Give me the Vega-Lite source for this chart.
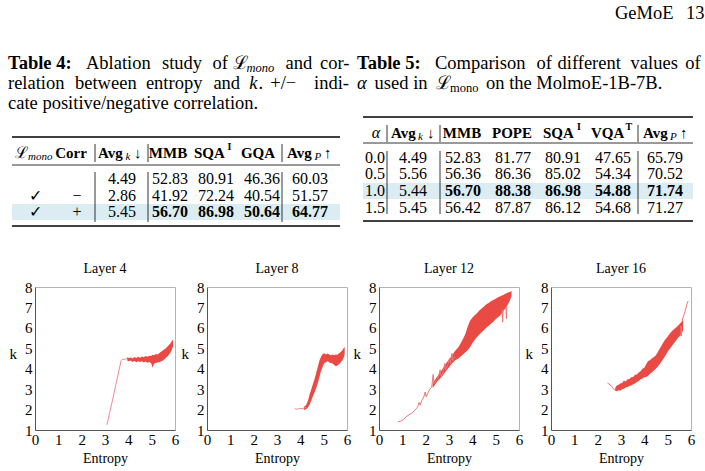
{
  "$schema": "https://vega.github.io/schema/vega-lite/v6.json",
  "background": "white",
  "padding": {"left": 8, "top": 0, "right": 0, "bottom": 0},
  "config": {
    "font": "Liberation Serif",
    "view": {"stroke": null},
    "title": {"font": "Liberation Serif", "fontSize": 14, "fontWeight": "normal", "color": "black", "offset": 0},
    "axis": {
      "labelFont": "Liberation Serif", "titleFont": "Liberation Serif",
      "labelFontSize": 15, "titleFontSize": 15, "titleFontWeight": "normal",
      "labelColor": "black", "titleColor": "black",
      "ticks": false, "grid": false, "domainColor": "#555555",
      "labelFlush": false, "labelOverlap": false
    },
    "axisX": {"labelPadding": 2, "titlePadding": 4, "titleFontSize": 14},
    "axisY": {"labelPadding": 3, "titleAngle": 0, "titleAlign": "right", "titleBaseline": "middle", "titlePadding": 8, "titleY": 66}
  },
  "datasets": {
    "colsX": [
      {"c": "hG", "x": 615}, {"c": "h13", "x": 686},
      {"c": "t4w1", "x": 8}, {"c": "t4w2", "x": 86}, {"c": "t4w3", "x": 162}, {"c": "t4w4", "x": 212.5},
      {"c": "t4w5", "x": 233}, {"c": "t4w6", "x": 246.5}, {"c": "t4w7", "x": 285.5}, {"c": "t4w8", "x": 320},
      {"c": "t4v1", "x": 8}, {"c": "t4v2", "x": 75}, {"c": "t4v3", "x": 145.9}, {"c": "t4v4", "x": 213.4},
      {"c": "t4v5", "x": 249.2}, {"c": "t4v6", "x": 258.6}, {"c": "t4v7", "x": 270.2}, {"c": "t4v8", "x": 314},
      {"c": "t5w1", "x": 357}, {"c": "t5w2", "x": 435}, {"c": "t5w3", "x": 536.5}, {"c": "t5w4", "x": 557.5},
      {"c": "t5w5", "x": 630.6}, {"c": "t5w6", "x": 685.3},
      {"c": "t5v2", "x": 374.6}, {"c": "t5v3", "x": 435.5}, {"c": "t5v4", "x": 450}, {"c": "t5v5", "x": 486}],
    "rowsY": [
      {"r": "hdr", "y": 13},
      {"r": "t4c1", "y": 63}, {"r": "t4c2", "y": 83}, {"r": "t4c3", "y": 103},
      {"r": "t5c1", "y": 63}, {"r": "t5c2", "y": 83},
      {"r": "t4top", "y": 137}, {"r": "t4h", "y": 153}, {"r": "t4mid", "y": 165},
      {"r": "t4r1", "y": 179}, {"r": "t4r2", "y": 196}, {"r": "t4r3", "y": 212}, {"r": "t4bot", "y": 226},
      {"r": "t4hl0", "y": 204}, {"r": "t4hl1", "y": 220},
      {"r": "t4vh0", "y": 144}, {"r": "t4vh1", "y": 162}, {"r": "t4vb0", "y": 172}, {"r": "t4vb1", "y": 222},
      {"r": "t5top", "y": 117}, {"r": "t5h", "y": 133}, {"r": "t5mid", "y": 143},
      {"r": "t5r1", "y": 158}, {"r": "t5r2", "y": 174}, {"r": "t5r3", "y": 191}, {"r": "t5r4", "y": 208}, {"r": "t5bot", "y": 221},
      {"r": "t5hl0", "y": 183}, {"r": "t5hl1", "y": 199},
      {"r": "t5vh0", "y": 125}, {"r": "t5vh1", "y": 142}, {"r": "t5vb0", "y": 151}, {"r": "t5vb1", "y": 214}
    ],
    "tableCols": [
      {"c": "t4x0", "x": 12}, {"c": "t4x9", "x": 340},
      {"c": "t4hL", "x": 15}, {"c": "t4hm", "x": 28}, {"c": "t4corr", "x": 71},
      {"c": "t4avgk", "x": 98}, {"c": "t4k", "x": 125.5}, {"c": "t4dn", "x": 134},
      {"c": "t4mmb", "x": 168}, {"c": "t4sqa", "x": 194}, {"c": "t4sqI", "x": 227.5}, {"c": "t4gqa", "x": 258},
      {"c": "t4avgp", "x": 287}, {"c": "t4p", "x": 314.5}, {"c": "t4up", "x": 324},
      {"c": "t4b1", "x": 95}, {"c": "t4b2", "x": 148}, {"c": "t4b3", "x": 282},
      {"c": "t4cL", "x": 35}, {"c": "t4cC", "x": 77}, {"c": "t4cK", "x": 122}, {"c": "t4cM", "x": 170},
      {"c": "t4cS", "x": 216}, {"c": "t4cG", "x": 262}, {"c": "t4cP", "x": 310},
      {"c": "t5x0", "x": 363}, {"c": "t5x9", "x": 693},
      {"c": "t5al", "x": 376}, {"c": "t5avgk", "x": 391}, {"c": "t5k", "x": 418}, {"c": "t5dn", "x": 427},
      {"c": "t5mmb", "x": 462}, {"c": "t5pope", "x": 512}, {"c": "t5sqa", "x": 543}, {"c": "t5sqI", "x": 577},
      {"c": "t5vqa", "x": 591}, {"c": "t5vqT", "x": 625.5}, {"c": "t5avgp", "x": 643}, {"c": "t5p", "x": 670}, {"c": "t5up", "x": 680},
      {"c": "t5b1", "x": 387}, {"c": "t5b2", "x": 440}, {"c": "t5b3", "x": 638},
      {"c": "t5cA", "x": 375}, {"c": "t5cK", "x": 413}, {"c": "t5cM", "x": 463}, {"c": "t5cO", "x": 513},
      {"c": "t5cS", "x": 563}, {"c": "t5cV", "x": 613}, {"c": "t5cP", "x": 665}
    ],
    "shapes": [
      {"k": "hl", "c0": "t4x0", "c1": "t4x9", "r0": "t4hl0", "r1": "t4hl1"},
      {"k": "hl", "c0": "t5x0", "c1": "t5x9", "r0": "t5hl0", "r1": "t5hl1"},
      {"k": "thick", "c0": "t4x0", "c1": "t4x9", "r0": "t4top", "r1": "t4top"},
      {"k": "thick", "c0": "t4x0", "c1": "t4x9", "r0": "t4bot", "r1": "t4bot"},
      {"k": "thin", "c0": "t4x0", "c1": "t4x9", "r0": "t4mid", "r1": "t4mid"},
      {"k": "thick", "c0": "t5x0", "c1": "t5x9", "r0": "t5top", "r1": "t5top"},
      {"k": "thick", "c0": "t5x0", "c1": "t5x9", "r0": "t5bot", "r1": "t5bot"},
      {"k": "thin", "c0": "t5x0", "c1": "t5x9", "r0": "t5mid", "r1": "t5mid"},
      {"k": "thin", "c0": "t4b1", "c1": "t4b1", "r0": "t4vh0", "r1": "t4vh1"},
      {"k": "thin", "c0": "t4b1", "c1": "t4b1", "r0": "t4vb0", "r1": "t4vb1"},
      {"k": "thin", "c0": "t4b2", "c1": "t4b2", "r0": "t4vh0", "r1": "t4vh1"},
      {"k": "thin", "c0": "t4b2", "c1": "t4b2", "r0": "t4vb0", "r1": "t4vb1"},
      {"k": "thin", "c0": "t4b3", "c1": "t4b3", "r0": "t4vh0", "r1": "t4vh1"},
      {"k": "thin", "c0": "t4b3", "c1": "t4b3", "r0": "t4vb0", "r1": "t4vb1"},
      {"k": "thin", "c0": "t5b1", "c1": "t5b1", "r0": "t5vh0", "r1": "t5vh1"},
      {"k": "thin", "c0": "t5b1", "c1": "t5b1", "r0": "t5vb0", "r1": "t5vb1"},
      {"k": "thin", "c0": "t5b2", "c1": "t5b2", "r0": "t5vh0", "r1": "t5vh1"},
      {"k": "thin", "c0": "t5b2", "c1": "t5b2", "r0": "t5vb0", "r1": "t5vb1"},
      {"k": "thin", "c0": "t5b3", "c1": "t5b3", "r0": "t5vh0", "r1": "t5vh1"},
      {"k": "thin", "c0": "t5b3", "c1": "t5b3", "r0": "t5vb0", "r1": "t5vb1"}
    ],
    "cells": [
      {"r": "hdr", "c": "hG", "t": "GeMoE", "s": "cap"},
      {"r": "hdr", "c": "h13", "t": "13", "s": "cap"},
      {"r": "t4c1", "c": "t4w1", "t": "Table 4:", "s": "capb"},
      {"r": "t4c1", "c": "t4w2", "t": "Ablation", "s": "cap"},
      {"r": "t4c1", "c": "t4w3", "t": "study", "s": "cap"},
      {"r": "t4c1", "c": "t4w4", "t": "of", "s": "cap"},
      {"r": "t4c1", "c": "t4w5", "t": "ℒ", "s": "cap"},
      {"r": "t4c1", "c": "t4w6", "t": "mono", "s": "capsi"},
      {"r": "t4c1", "c": "t4w7", "t": "and", "s": "cap"},
      {"r": "t4c1", "c": "t4w8", "t": "cor-", "s": "cap"},
      {"r": "t4c2", "c": "t4v1", "t": "relation", "s": "cap"},
      {"r": "t4c2", "c": "t4v2", "t": "between", "s": "cap"},
      {"r": "t4c2", "c": "t4v3", "t": "entropy", "s": "cap"},
      {"r": "t4c2", "c": "t4v4", "t": "and", "s": "cap"},
      {"r": "t4c2", "c": "t4v5", "t": "k", "s": "capi"},
      {"r": "t4c2", "c": "t4v6", "t": ".", "s": "cap"},
      {"r": "t4c2", "c": "t4v7", "t": "+/−", "s": "cap"},
      {"r": "t4c2", "c": "t4v8", "t": "indi-", "s": "cap"},
      {"r": "t4c3", "c": "t4v1", "t": "cate positive/negative correlation.", "s": "cap"},
      {"r": "t5c1", "c": "t5w1", "t": "Table 5:", "s": "capb"},
      {"r": "t5c1", "c": "t5w2", "t": "Comparison", "s": "cap"},
      {"r": "t5c1", "c": "t5w3", "t": "of", "s": "cap"},
      {"r": "t5c1", "c": "t5w4", "t": "different", "s": "cap"},
      {"r": "t5c1", "c": "t5w5", "t": "values", "s": "cap"},
      {"r": "t5c1", "c": "t5w6", "t": "of", "s": "cap"},
      {"r": "t5c2", "c": "t5w1", "t": "α", "s": "capi"},
      {"r": "t5c2", "c": "t5v2", "t": "used in", "s": "cap"},
      {"r": "t5c2", "c": "t5v3", "t": "ℒ", "s": "cap"},
      {"r": "t5c2", "c": "t5v4", "t": "mono", "s": "capsn"},
      {"r": "t5c2", "c": "t5v5", "t": "on the MolmoE-1B-7B.", "s": "cap"},

      {"r": "t4h", "c": "t4hL", "t": "ℒ", "s": "hn"},
      {"r": "t4h", "c": "t4hm", "t": "mono", "s": "hsi"},
      {"r": "t4h", "c": "t4corr", "t": "Corr", "s": "hb"},
      {"r": "t4h", "c": "t4avgk", "t": "Avg", "s": "hbl"},
      {"r": "t4h", "c": "t4k", "t": "k", "s": "hsi"},
      {"r": "t4h", "c": "t4dn", "t": "↓", "s": "ha"},
      {"r": "t4h", "c": "t4mmb", "t": "MMB", "s": "hb"},
      {"r": "t4h", "c": "t4sqa", "t": "SQA", "s": "hbl"},
      {"r": "t4h", "c": "t4sqI", "t": "I", "s": "hsb"},
      {"r": "t4h", "c": "t4gqa", "t": "GQA", "s": "hb"},
      {"r": "t4h", "c": "t4avgp", "t": "Avg", "s": "hbl"},
      {"r": "t4h", "c": "t4p", "t": "P", "s": "hsi"},
      {"r": "t4h", "c": "t4up", "t": "↑", "s": "ha"},
      {"r": "t4r1", "c": "t4cK", "t": "4.49", "s": "n"},
      {"r": "t4r1", "c": "t4cM", "t": "52.83", "s": "n"},
      {"r": "t4r1", "c": "t4cS", "t": "80.91", "s": "n"},
      {"r": "t4r1", "c": "t4cG", "t": "46.36", "s": "n"},
      {"r": "t4r1", "c": "t4cP", "t": "60.03", "s": "n"},
      {"r": "t4r2", "c": "t4cL", "t": "✓", "s": "n"},
      {"r": "t4r2", "c": "t4cC", "t": "−", "s": "n"},
      {"r": "t4r2", "c": "t4cK", "t": "2.86", "s": "n"},
      {"r": "t4r2", "c": "t4cM", "t": "41.92", "s": "n"},
      {"r": "t4r2", "c": "t4cS", "t": "72.24", "s": "n"},
      {"r": "t4r2", "c": "t4cG", "t": "40.54", "s": "n"},
      {"r": "t4r2", "c": "t4cP", "t": "51.57", "s": "n"},
      {"r": "t4r3", "c": "t4cL", "t": "✓", "s": "n"},
      {"r": "t4r3", "c": "t4cC", "t": "+", "s": "n"},
      {"r": "t4r3", "c": "t4cK", "t": "5.45", "s": "n"},
      {"r": "t4r3", "c": "t4cM", "t": "56.70", "s": "b"},
      {"r": "t4r3", "c": "t4cS", "t": "86.98", "s": "b"},
      {"r": "t4r3", "c": "t4cG", "t": "50.64", "s": "b"},
      {"r": "t4r3", "c": "t4cP", "t": "64.77", "s": "b"},

      {"r": "t5h", "c": "t5al", "t": "α", "s": "hi"},
      {"r": "t5h", "c": "t5avgk", "t": "Avg", "s": "hbl"},
      {"r": "t5h", "c": "t5k", "t": "k", "s": "hsi"},
      {"r": "t5h", "c": "t5dn", "t": "↓", "s": "ha"},
      {"r": "t5h", "c": "t5mmb", "t": "MMB", "s": "hb"},
      {"r": "t5h", "c": "t5pope", "t": "POPE", "s": "hb"},
      {"r": "t5h", "c": "t5sqa", "t": "SQA", "s": "hbl"},
      {"r": "t5h", "c": "t5sqI", "t": "I", "s": "hsb"},
      {"r": "t5h", "c": "t5vqa", "t": "VQA", "s": "hbl"},
      {"r": "t5h", "c": "t5vqT", "t": "T", "s": "hsb"},
      {"r": "t5h", "c": "t5avgp", "t": "Avg", "s": "hbl"},
      {"r": "t5h", "c": "t5p", "t": "P", "s": "hsi"},
      {"r": "t5h", "c": "t5up", "t": "↑", "s": "ha"},
      {"r": "t5r1", "c": "t5cA", "t": "0.0", "s": "n"},
      {"r": "t5r1", "c": "t5cK", "t": "4.49", "s": "n"},
      {"r": "t5r1", "c": "t5cM", "t": "52.83", "s": "n"},
      {"r": "t5r1", "c": "t5cO", "t": "81.77", "s": "n"},
      {"r": "t5r1", "c": "t5cS", "t": "80.91", "s": "n"},
      {"r": "t5r1", "c": "t5cV", "t": "47.65", "s": "n"},
      {"r": "t5r1", "c": "t5cP", "t": "65.79", "s": "n"},
      {"r": "t5r2", "c": "t5cA", "t": "0.5", "s": "n"},
      {"r": "t5r2", "c": "t5cK", "t": "5.56", "s": "n"},
      {"r": "t5r2", "c": "t5cM", "t": "56.36", "s": "n"},
      {"r": "t5r2", "c": "t5cO", "t": "86.36", "s": "n"},
      {"r": "t5r2", "c": "t5cS", "t": "85.02", "s": "n"},
      {"r": "t5r2", "c": "t5cV", "t": "54.34", "s": "n"},
      {"r": "t5r2", "c": "t5cP", "t": "70.52", "s": "n"},
      {"r": "t5r3", "c": "t5cA", "t": "1.0", "s": "n"},
      {"r": "t5r3", "c": "t5cK", "t": "5.44", "s": "n"},
      {"r": "t5r3", "c": "t5cM", "t": "56.70", "s": "b"},
      {"r": "t5r3", "c": "t5cO", "t": "88.38", "s": "b"},
      {"r": "t5r3", "c": "t5cS", "t": "86.98", "s": "b"},
      {"r": "t5r3", "c": "t5cV", "t": "54.88", "s": "b"},
      {"r": "t5r3", "c": "t5cP", "t": "71.74", "s": "b"},
      {"r": "t5r4", "c": "t5cA", "t": "1.5", "s": "n"},
      {"r": "t5r4", "c": "t5cK", "t": "5.45", "s": "n"},
      {"r": "t5r4", "c": "t5cM", "t": "56.42", "s": "n"},
      {"r": "t5r4", "c": "t5cO", "t": "87.87", "s": "n"},
      {"r": "t5r4", "c": "t5cS", "t": "86.12", "s": "n"},
      {"r": "t5r4", "c": "t5cV", "t": "54.68", "s": "n"},
      {"r": "t5r4", "c": "t5cP", "t": "71.27", "s": "n"}
    ],
    "band": [
      {"layer": 4, "e": 3.95, "lo": 4.40, "hi": 4.56}, {"layer": 4, "e": 4.02, "lo": 4.36, "hi": 4.52},
      {"layer": 4, "e": 4.10, "lo": 4.40, "hi": 4.55}, {"layer": 4, "e": 4.18, "lo": 4.33, "hi": 4.50},
      {"layer": 4, "e": 4.26, "lo": 4.38, "hi": 4.57}, {"layer": 4, "e": 4.34, "lo": 4.32, "hi": 4.52},
      {"layer": 4, "e": 4.42, "lo": 4.37, "hi": 4.58}, {"layer": 4, "e": 4.50, "lo": 4.33, "hi": 4.54},
      {"layer": 4, "e": 4.58, "lo": 4.36, "hi": 4.60}, {"layer": 4, "e": 4.66, "lo": 4.30, "hi": 4.56},
      {"layer": 4, "e": 4.74, "lo": 4.35, "hi": 4.62}, {"layer": 4, "e": 4.82, "lo": 4.29, "hi": 4.58},
      {"layer": 4, "e": 4.90, "lo": 4.33, "hi": 4.64}, {"layer": 4, "e": 4.98, "lo": 4.27, "hi": 4.62},
      {"layer": 4, "e": 5.04, "lo": 4.05, "hi": 4.68}, {"layer": 4, "e": 5.10, "lo": 4.24, "hi": 4.66},
      {"layer": 4, "e": 5.18, "lo": 4.28, "hi": 4.72}, {"layer": 4, "e": 5.26, "lo": 4.30, "hi": 4.70},
      {"layer": 4, "e": 5.34, "lo": 4.33, "hi": 4.78}, {"layer": 4, "e": 5.42, "lo": 4.36, "hi": 4.84},
      {"layer": 4, "e": 5.50, "lo": 4.42, "hi": 4.92}, {"layer": 4, "e": 5.58, "lo": 4.50, "hi": 4.98},
      {"layer": 4, "e": 5.66, "lo": 4.58, "hi": 5.06}, {"layer": 4, "e": 5.74, "lo": 4.68, "hi": 5.16},
      {"layer": 4, "e": 5.80, "lo": 4.78, "hi": 5.24}, {"layer": 4, "e": 5.86, "lo": 4.92, "hi": 5.34},
      {"layer": 4, "e": 5.92, "lo": 5.10, "hi": 5.44},

      {"layer": 8, "e": 4.15, "lo": 1.98, "hi": 2.12}, {"layer": 8, "e": 4.25, "lo": 2.02, "hi": 2.22},
      {"layer": 8, "e": 4.33, "lo": 2.10, "hi": 2.45}, {"layer": 8, "e": 4.40, "lo": 2.25, "hi": 2.75},
      {"layer": 8, "e": 4.47, "lo": 2.45, "hi": 3.00}, {"layer": 8, "e": 4.54, "lo": 2.65, "hi": 3.25},
      {"layer": 8, "e": 4.61, "lo": 2.85, "hi": 3.50}, {"layer": 8, "e": 4.68, "lo": 3.05, "hi": 3.80},
      {"layer": 8, "e": 4.75, "lo": 3.30, "hi": 4.10}, {"layer": 8, "e": 4.82, "lo": 3.60, "hi": 4.40},
      {"layer": 8, "e": 4.89, "lo": 3.90, "hi": 4.60}, {"layer": 8, "e": 4.96, "lo": 4.10, "hi": 4.72},
      {"layer": 8, "e": 5.03, "lo": 4.28, "hi": 4.76}, {"layer": 8, "e": 5.10, "lo": 4.32, "hi": 4.70},
      {"layer": 8, "e": 5.17, "lo": 4.36, "hi": 4.74}, {"layer": 8, "e": 5.24, "lo": 4.30, "hi": 4.70},
      {"layer": 8, "e": 5.31, "lo": 4.28, "hi": 4.66}, {"layer": 8, "e": 5.38, "lo": 4.25, "hi": 4.70},
      {"layer": 8, "e": 5.45, "lo": 4.18, "hi": 4.66}, {"layer": 8, "e": 5.52, "lo": 4.12, "hi": 4.70},
      {"layer": 8, "e": 5.59, "lo": 4.16, "hi": 4.68}, {"layer": 8, "e": 5.66, "lo": 4.22, "hi": 4.76},
      {"layer": 8, "e": 5.73, "lo": 4.30, "hi": 4.82}, {"layer": 8, "e": 5.80, "lo": 4.40, "hi": 4.90},
      {"layer": 8, "e": 5.86, "lo": 4.55, "hi": 5.02}, {"layer": 8, "e": 5.90, "lo": 4.70, "hi": 5.06},

      {"layer": 12, "e": 2.30, "lo": 3.05, "hi": 3.30}, {"layer": 12, "e": 2.50, "lo": 3.38, "hi": 3.62},
      {"layer": 12, "e": 2.70, "lo": 3.62, "hi": 3.95}, {"layer": 12, "e": 2.90, "lo": 3.92, "hi": 4.30},
      {"layer": 12, "e": 3.10, "lo": 4.22, "hi": 4.60}, {"layer": 12, "e": 3.25, "lo": 4.40, "hi": 4.85},
      {"layer": 12, "e": 3.40, "lo": 4.50, "hi": 5.05}, {"layer": 12, "e": 3.50, "lo": 4.60, "hi": 5.25},
      {"layer": 12, "e": 3.60, "lo": 4.70, "hi": 5.45}, {"layer": 12, "e": 3.70, "lo": 4.80, "hi": 5.70},
      {"layer": 12, "e": 3.80, "lo": 4.90, "hi": 6.05}, {"layer": 12, "e": 3.90, "lo": 5.05, "hi": 6.35},
      {"layer": 12, "e": 4.00, "lo": 5.25, "hi": 6.50}, {"layer": 12, "e": 4.10, "lo": 5.40, "hi": 6.62},
      {"layer": 12, "e": 4.20, "lo": 5.55, "hi": 6.72}, {"layer": 12, "e": 4.30, "lo": 5.68, "hi": 6.85},
      {"layer": 12, "e": 4.40, "lo": 5.78, "hi": 6.95}, {"layer": 12, "e": 4.50, "lo": 5.90, "hi": 7.05},
      {"layer": 12, "e": 4.60, "lo": 6.00, "hi": 7.15}, {"layer": 12, "e": 4.70, "lo": 6.10, "hi": 7.22},
      {"layer": 12, "e": 4.80, "lo": 6.20, "hi": 7.30}, {"layer": 12, "e": 4.90, "lo": 6.30, "hi": 7.36},
      {"layer": 12, "e": 5.00, "lo": 6.42, "hi": 7.42}, {"layer": 12, "e": 5.10, "lo": 6.52, "hi": 7.50},
      {"layer": 12, "e": 5.20, "lo": 6.62, "hi": 7.55}, {"layer": 12, "e": 5.30, "lo": 6.78, "hi": 7.60},
      {"layer": 12, "e": 5.40, "lo": 6.92, "hi": 7.66}, {"layer": 12, "e": 5.50, "lo": 7.10, "hi": 7.72},
      {"layer": 12, "e": 5.60, "lo": 7.32, "hi": 7.76}, {"layer": 12, "e": 5.68, "lo": 7.55, "hi": 7.80},

      {"layer": 16, "e": 2.75, "lo": 2.92, "hi": 3.05}, {"layer": 16, "e": 2.82, "lo": 2.90, "hi": 3.18},
      {"layer": 16, "e": 2.90, "lo": 2.95, "hi": 3.22}, {"layer": 16, "e": 2.97, "lo": 2.92, "hi": 3.28},
      {"layer": 16, "e": 3.05, "lo": 3.00, "hi": 3.30}, {"layer": 16, "e": 3.12, "lo": 3.02, "hi": 3.42},
      {"layer": 16, "e": 3.20, "lo": 3.08, "hi": 3.38}, {"layer": 16, "e": 3.28, "lo": 3.10, "hi": 3.48},
      {"layer": 16, "e": 3.36, "lo": 3.15, "hi": 3.50}, {"layer": 16, "e": 3.44, "lo": 3.18, "hi": 3.58},
      {"layer": 16, "e": 3.52, "lo": 3.24, "hi": 3.60}, {"layer": 16, "e": 3.60, "lo": 3.28, "hi": 3.70},
      {"layer": 16, "e": 3.68, "lo": 3.35, "hi": 3.72}, {"layer": 16, "e": 3.76, "lo": 3.40, "hi": 3.82},
      {"layer": 16, "e": 3.84, "lo": 3.48, "hi": 3.88}, {"layer": 16, "e": 3.92, "lo": 3.52, "hi": 4.00},
      {"layer": 16, "e": 4.00, "lo": 3.58, "hi": 4.05}, {"layer": 16, "e": 4.08, "lo": 3.60, "hi": 4.22},
      {"layer": 16, "e": 4.16, "lo": 3.66, "hi": 4.38}, {"layer": 16, "e": 4.24, "lo": 3.74, "hi": 4.42},
      {"layer": 16, "e": 4.32, "lo": 3.82, "hi": 4.50}, {"layer": 16, "e": 4.40, "lo": 3.90, "hi": 4.56},
      {"layer": 16, "e": 4.48, "lo": 3.98, "hi": 4.64}, {"layer": 16, "e": 4.56, "lo": 4.08, "hi": 4.78},
      {"layer": 16, "e": 4.64, "lo": 4.20, "hi": 4.94}, {"layer": 16, "e": 4.72, "lo": 4.32, "hi": 5.10},
      {"layer": 16, "e": 4.80, "lo": 4.46, "hi": 5.26}, {"layer": 16, "e": 4.88, "lo": 4.60, "hi": 5.40},
      {"layer": 16, "e": 4.96, "lo": 4.74, "hi": 5.52}, {"layer": 16, "e": 5.04, "lo": 4.90, "hi": 5.64},
      {"layer": 16, "e": 5.12, "lo": 5.02, "hi": 5.76}, {"layer": 16, "e": 5.20, "lo": 5.14, "hi": 5.86},
      {"layer": 16, "e": 5.28, "lo": 5.26, "hi": 5.94}, {"layer": 16, "e": 5.36, "lo": 5.38, "hi": 6.02},
      {"layer": 16, "e": 5.44, "lo": 5.50, "hi": 6.10}, {"layer": 16, "e": 5.52, "lo": 5.60, "hi": 6.20},
      {"layer": 16, "e": 5.60, "lo": 5.72, "hi": 6.30}, {"layer": 16, "e": 5.66, "lo": 5.88, "hi": 6.42}
    ],
    "thin": [
      {"layer": 4, "seg": "a", "e": 3.08, "k": 1.25}, {"layer": 4, "seg": "a", "e": 3.30, "k": 2.35},
      {"layer": 4, "seg": "a", "e": 3.50, "k": 3.40}, {"layer": 4, "seg": "a", "e": 3.69, "k": 4.40},
      {"layer": 4, "seg": "a", "e": 3.76, "k": 4.48}, {"layer": 4, "seg": "a", "e": 3.82, "k": 4.44},
      {"layer": 4, "seg": "a", "e": 3.90, "k": 4.50}, {"layer": 4, "seg": "a", "e": 3.96, "k": 4.47},

      {"layer": 8, "seg": "a", "e": 3.76, "k": 2.04}, {"layer": 8, "seg": "a", "e": 3.88, "k": 2.02},
      {"layer": 8, "seg": "a", "e": 3.98, "k": 2.06}, {"layer": 8, "seg": "a", "e": 4.08, "k": 2.04},
      {"layer": 8, "seg": "a", "e": 4.18, "k": 2.08}, {"layer": 8, "seg": "a", "e": 4.25, "k": 2.12},

      {"layer": 12, "seg": "a", "e": 0.81, "k": 1.40}, {"layer": 12, "seg": "a", "e": 0.95, "k": 1.44},
      {"layer": 12, "seg": "a", "e": 1.05, "k": 1.52}, {"layer": 12, "seg": "a", "e": 1.15, "k": 1.64},
      {"layer": 12, "seg": "a", "e": 1.28, "k": 1.74}, {"layer": 12, "seg": "a", "e": 1.42, "k": 1.84},
      {"layer": 12, "seg": "a", "e": 1.55, "k": 1.98}, {"layer": 12, "seg": "a", "e": 1.65, "k": 2.12},
      {"layer": 12, "seg": "a", "e": 1.72, "k": 2.35}, {"layer": 12, "seg": "a", "e": 1.76, "k": 2.22},
      {"layer": 12, "seg": "a", "e": 1.85, "k": 2.48}, {"layer": 12, "seg": "a", "e": 1.92, "k": 2.62},
      {"layer": 12, "seg": "a", "e": 1.98, "k": 2.86}, {"layer": 12, "seg": "a", "e": 2.02, "k": 2.62},
      {"layer": 12, "seg": "a", "e": 2.10, "k": 2.82}, {"layer": 12, "seg": "a", "e": 2.18, "k": 3.00},
      {"layer": 12, "seg": "a", "e": 2.26, "k": 3.10}, {"layer": 12, "seg": "a", "e": 2.32, "k": 3.72},
      {"layer": 12, "seg": "a", "e": 2.36, "k": 3.25}, {"layer": 12, "seg": "a", "e": 2.45, "k": 3.42},
      {"layer": 12, "seg": "a", "e": 2.55, "k": 3.58}, {"layer": 12, "seg": "a", "e": 2.62, "k": 3.95},
      {"layer": 12, "seg": "a", "e": 2.66, "k": 3.62}, {"layer": 12, "seg": "a", "e": 2.75, "k": 3.85},
      {"layer": 12, "seg": "a", "e": 2.82, "k": 4.25}, {"layer": 12, "seg": "a", "e": 2.86, "k": 3.95},
      {"layer": 12, "seg": "a", "e": 2.95, "k": 4.20}, {"layer": 12, "seg": "a", "e": 3.02, "k": 4.50},
      {"layer": 12, "seg": "a", "e": 3.06, "k": 4.25}, {"layer": 12, "seg": "a", "e": 3.12, "k": 4.75},
      {"layer": 12, "seg": "a", "e": 3.16, "k": 4.40}, {"layer": 12, "seg": "a", "e": 3.25, "k": 4.60},
      {"layer": 12, "seg": "b", "e": 5.28, "k": 6.90}, {"layer": 12, "seg": "b", "e": 5.30, "k": 6.28},
      {"layer": 12, "seg": "b", "e": 5.32, "k": 6.90},
      {"layer": 12, "seg": "c", "e": 5.44, "k": 7.00}, {"layer": 12, "seg": "c", "e": 5.46, "k": 6.45},
      {"layer": 12, "seg": "c", "e": 5.48, "k": 7.05},

      {"layer": 16, "seg": "a", "e": 2.42, "k": 3.30}, {"layer": 16, "seg": "a", "e": 2.55, "k": 3.20},
      {"layer": 16, "seg": "a", "e": 2.65, "k": 3.06}, {"layer": 16, "seg": "a", "e": 2.72, "k": 2.96},
      {"layer": 16, "seg": "a", "e": 2.80, "k": 3.02},
      {"layer": 16, "seg": "b", "e": 5.62, "k": 6.35}, {"layer": 16, "seg": "b", "e": 5.70, "k": 6.65},
      {"layer": 16, "seg": "b", "e": 5.76, "k": 6.85}, {"layer": 16, "seg": "b", "e": 5.82, "k": 7.15},
      {"layer": 16, "seg": "b", "e": 5.88, "k": 7.32},
      {"layer": 16, "seg": "c", "e": 5.56, "k": 6.10}, {"layer": 16, "seg": "c", "e": 5.58, "k": 5.60},
      {"layer": 16, "seg": "c", "e": 5.60, "k": 6.10}
    ]
  },
  "spacing": 21,
  "vconcat": [
    {
      "width": 670,
      "height": 240,
      "layer": [
        {
          "data": {"name": "shapes"},
          "transform": [
            {"lookup": "c0", "from": {"data": {"name": "tableCols"}, "key": "c", "fields": ["x"]}, "as": ["x0"]},
            {"lookup": "c1", "from": {"data": {"name": "tableCols"}, "key": "c", "fields": ["x"]}, "as": ["x1"]},
            {"lookup": "r0", "from": {"data": {"name": "rowsY"}, "key": "r", "fields": ["y"]}, "as": ["y0"]},
            {"lookup": "r1", "from": {"data": {"name": "rowsY"}, "key": "r", "fields": ["y"]}, "as": ["y1"]}
          ],
          "encoding": {
            "x": {"field": "x0", "type": "quantitative", "scale": {"domain": [35, 705], "nice": false, "zero": false}, "axis": null},
            "x2": {"field": "x1"},
            "y": {"field": "y0", "type": "quantitative", "scale": {"domain": [0, 240], "nice": false, "zero": false, "reverse": true}, "axis": null},
            "y2": {"field": "y1"}
          },
          "layer": [
            {"transform": [{"filter": {"field": "k", "equal": "hl"}}], "mark": {"type": "rect", "color": "#dbedf3"}},
            {"transform": [{"filter": {"field": "k", "equal": "thick"}}], "mark": {"type": "rule", "color": "black", "strokeWidth": 1.5}},
            {"transform": [{"filter": {"field": "k", "equal": "thin"}}], "mark": {"type": "rule", "color": "black", "strokeWidth": 0.8}}
          ]
        },
        {
          "data": {"name": "cells"},
          "transform": [
            {"lookup": "c", "from": {"data": {"name": "colsX"}, "key": "c", "fields": ["x"]}, "as": ["xa"]},
            {"lookup": "c", "from": {"data": {"name": "tableCols"}, "key": "c", "fields": ["x"]}, "as": ["xb"]},
            {"lookup": "r", "from": {"data": {"name": "rowsY"}, "key": "r", "fields": ["y"]}},
            {"fold": ["xa", "xb"], "as": ["src", "x"]},
            {"filter": "isValid(datum.x)"}
          ],
          "encoding": {
            "x": {"field": "x", "type": "quantitative", "scale": {"domain": [35, 705], "nice": false, "zero": false}, "axis": null},
            "y": {"field": "y", "type": "quantitative", "scale": {"domain": [0, 240], "nice": false, "zero": false, "reverse": true}, "axis": null},
            "text": {"field": "t"}
          },
          "layer": [
            {"transform": [{"filter": {"field": "s", "equal": "cap"}}], "mark": {"type": "text", "font": "Liberation Serif", "fontSize": 18.5, "align": "left", "baseline": "middle", "color": "black"}},
            {"transform": [{"filter": {"field": "s", "equal": "capb"}}], "mark": {"type": "text", "font": "Liberation Serif", "fontSize": 18.5, "fontWeight": "bold", "align": "left", "baseline": "middle", "color": "black"}},
            {"transform": [{"filter": {"field": "s", "equal": "capi"}}], "mark": {"type": "text", "font": "Liberation Serif", "fontSize": 18.5, "fontStyle": "italic", "align": "left", "baseline": "middle", "color": "black"}},
            {"transform": [{"filter": {"field": "s", "equal": "capsi"}}], "mark": {"type": "text", "font": "Liberation Serif", "fontSize": 12.5, "fontStyle": "italic", "align": "left", "baseline": "middle", "dy": 5, "color": "black"}},
            {"transform": [{"filter": {"field": "s", "equal": "capsn"}}], "mark": {"type": "text", "font": "Liberation Serif", "fontSize": 12.5, "align": "left", "baseline": "middle", "dy": 5, "color": "black"}},
            {"transform": [{"filter": {"field": "s", "equal": "hn"}}], "mark": {"type": "text", "font": "Liberation Serif", "fontSize": 16, "align": "left", "baseline": "middle", "color": "black"}},
            {"transform": [{"filter": {"field": "s", "equal": "hb"}}], "mark": {"type": "text", "font": "Liberation Serif", "fontSize": 15, "fontWeight": "bold", "align": "center", "baseline": "middle", "color": "black"}},
            {"transform": [{"filter": {"field": "s", "equal": "hbl"}}], "mark": {"type": "text", "font": "Liberation Serif", "fontSize": 15, "fontWeight": "bold", "align": "left", "baseline": "middle", "color": "black"}},
            {"transform": [{"filter": {"field": "s", "equal": "hi"}}], "mark": {"type": "text", "font": "Liberation Serif", "fontSize": 16, "fontStyle": "italic", "align": "center", "baseline": "middle", "color": "black"}},
            {"transform": [{"filter": {"field": "s", "equal": "hsi"}}], "mark": {"type": "text", "font": "Liberation Serif", "fontSize": 11, "fontStyle": "italic", "align": "left", "baseline": "middle", "dy": 4, "color": "black"}},
            {"transform": [{"filter": {"field": "s", "equal": "hsb"}}], "mark": {"type": "text", "font": "Liberation Serif", "fontSize": 10, "fontWeight": "bold", "align": "left", "baseline": "middle", "dy": -6, "color": "black"}},
            {"transform": [{"filter": {"field": "s", "equal": "ha"}}], "mark": {"type": "text", "font": "Liberation Serif", "fontSize": 15, "align": "left", "baseline": "middle", "color": "black"}},
            {"transform": [{"filter": {"field": "s", "equal": "n"}}], "mark": {"type": "text", "font": "Liberation Serif", "fontSize": 16, "align": "center", "baseline": "middle", "color": "black"}},
            {"transform": [{"filter": {"field": "s", "equal": "b"}}], "mark": {"type": "text", "font": "Liberation Serif", "fontSize": 16, "fontWeight": "bold", "align": "center", "baseline": "middle", "color": "black"}}
          ]
        }
      ]
    },
    {
      "spacing": 32,
      "bounds": "flush",
      "hconcat": [
        {
          "title": "Layer 4", "width": 140, "height": 143, "view": {"stroke": "#b4b4b4"},
          "encoding": {
            "x": {"field": "e", "type": "quantitative", "scale": {"domain": [0, 6], "nice": false},
                  "axis": {"values": [0, 1, 2, 3, 4, 5, 6], "title": "Entropy", "labelOverlap": false, "labelSeparation": 0, "labelFont": "Liberation Serif", "titleFont": "Liberation Serif", "labelFontSize": 15}}
          },
          "layer": [
            {"data": {"name": "band"}, "transform": [{"filter": {"field": "layer", "equal": 4}}],
             "mark": {"type": "area", "color": "#e8403a", "opacity": 0.95},
             "encoding": {
               "y": {"field": "lo", "type": "quantitative", "scale": {"domain": [1, 8], "nice": false, "zero": false},
                     "axis": {"values": [1, 2, 3, 4, 5, 6, 7, 8], "title": "k", "labelOverlap": false, "labelSeparation": 0, "labelFont": "Liberation Serif", "titleFont": "Liberation Serif", "labelFontSize": 15}},
               "y2": {"field": "hi"}}},
            {"data": {"name": "thin"}, "transform": [{"filter": {"field": "layer", "equal": 4}}],
             "mark": {"type": "line", "color": "#f08c8c", "strokeWidth": 1},
             "encoding": {"y": {"field": "k", "type": "quantitative",
                     "axis": {"values": [1, 2, 3, 4, 5, 6, 7, 8], "title": "k", "labelOverlap": false, "labelSeparation": 0, "labelFont": "Liberation Serif", "titleFont": "Liberation Serif", "labelFontSize": 15}}, "detail": {"field": "seg"}}}
          ]
        },
        {
          "title": "Layer 8", "width": 140, "height": 143, "view": {"stroke": "#b4b4b4"},
          "encoding": {
            "x": {"field": "e", "type": "quantitative", "scale": {"domain": [0, 6], "nice": false},
                  "axis": {"values": [0, 1, 2, 3, 4, 5, 6], "title": "Entropy", "labelOverlap": false, "labelSeparation": 0, "labelFont": "Liberation Serif", "titleFont": "Liberation Serif", "labelFontSize": 15}}
          },
          "layer": [
            {"data": {"name": "band"}, "transform": [{"filter": {"field": "layer", "equal": 8}}],
             "mark": {"type": "area", "color": "#e8403a", "opacity": 0.95},
             "encoding": {
               "y": {"field": "lo", "type": "quantitative", "scale": {"domain": [1, 8], "nice": false, "zero": false},
                     "axis": {"values": [1, 2, 3, 4, 5, 6, 7, 8], "title": "k", "labelOverlap": false, "labelSeparation": 0, "labelFont": "Liberation Serif", "titleFont": "Liberation Serif", "labelFontSize": 15}},
               "y2": {"field": "hi"}}},
            {"data": {"name": "thin"}, "transform": [{"filter": {"field": "layer", "equal": 8}}],
             "mark": {"type": "line", "color": "#f08c8c", "strokeWidth": 1},
             "encoding": {"y": {"field": "k", "type": "quantitative",
                     "axis": {"values": [1, 2, 3, 4, 5, 6, 7, 8], "title": "k", "labelOverlap": false, "labelSeparation": 0, "labelFont": "Liberation Serif", "titleFont": "Liberation Serif", "labelFontSize": 15}}, "detail": {"field": "seg"}}}
          ]
        },
        {
          "title": "Layer 12", "width": 140, "height": 143, "view": {"stroke": "#b4b4b4"},
          "encoding": {
            "x": {"field": "e", "type": "quantitative", "scale": {"domain": [0, 6], "nice": false},
                  "axis": {"values": [0, 1, 2, 3, 4, 5, 6], "title": "Entropy", "labelOverlap": false, "labelSeparation": 0, "labelFont": "Liberation Serif", "titleFont": "Liberation Serif", "labelFontSize": 15}}
          },
          "layer": [
            {"data": {"name": "band"}, "transform": [{"filter": {"field": "layer", "equal": 12}}],
             "mark": {"type": "area", "color": "#e8403a", "opacity": 0.95},
             "encoding": {
               "y": {"field": "lo", "type": "quantitative", "scale": {"domain": [1, 8], "nice": false, "zero": false},
                     "axis": {"values": [1, 2, 3, 4, 5, 6, 7, 8], "title": "k", "labelOverlap": false, "labelSeparation": 0, "labelFont": "Liberation Serif", "titleFont": "Liberation Serif", "labelFontSize": 15}},
               "y2": {"field": "hi"}}},
            {"data": {"name": "thin"}, "transform": [{"filter": {"field": "layer", "equal": 12}}],
             "mark": {"type": "line", "color": "#ee7676", "strokeWidth": 1},
             "encoding": {"y": {"field": "k", "type": "quantitative",
                     "axis": {"values": [1, 2, 3, 4, 5, 6, 7, 8], "title": "k", "labelOverlap": false, "labelSeparation": 0, "labelFont": "Liberation Serif", "titleFont": "Liberation Serif", "labelFontSize": 15}}, "detail": {"field": "seg"}}}
          ]
        },
        {
          "title": "Layer 16", "width": 140, "height": 143, "view": {"stroke": "#b4b4b4"},
          "encoding": {
            "x": {"field": "e", "type": "quantitative", "scale": {"domain": [0, 6], "nice": false},
                  "axis": {"values": [0, 1, 2, 3, 4, 5, 6], "title": "Entropy", "labelOverlap": false, "labelSeparation": 0, "labelFont": "Liberation Serif", "titleFont": "Liberation Serif", "labelFontSize": 15}}
          },
          "layer": [
            {"data": {"name": "band"}, "transform": [{"filter": {"field": "layer", "equal": 16}}],
             "mark": {"type": "area", "color": "#e8403a", "opacity": 0.95},
             "encoding": {
               "y": {"field": "lo", "type": "quantitative", "scale": {"domain": [1, 8], "nice": false, "zero": false},
                     "axis": {"values": [1, 2, 3, 4, 5, 6, 7, 8], "title": "k", "labelOverlap": false, "labelSeparation": 0, "labelFont": "Liberation Serif", "titleFont": "Liberation Serif", "labelFontSize": 15}},
               "y2": {"field": "hi"}}},
            {"data": {"name": "thin"}, "transform": [{"filter": {"field": "layer", "equal": 16}}],
             "mark": {"type": "line", "color": "#ee7676", "strokeWidth": 1},
             "encoding": {"y": {"field": "k", "type": "quantitative",
                     "axis": {"values": [1, 2, 3, 4, 5, 6, 7, 8], "title": "k", "labelOverlap": false, "labelSeparation": 0, "labelFont": "Liberation Serif", "titleFont": "Liberation Serif", "labelFontSize": 15}}, "detail": {"field": "seg"}}}
          ]
        }
      ]
    }
  ]
}
